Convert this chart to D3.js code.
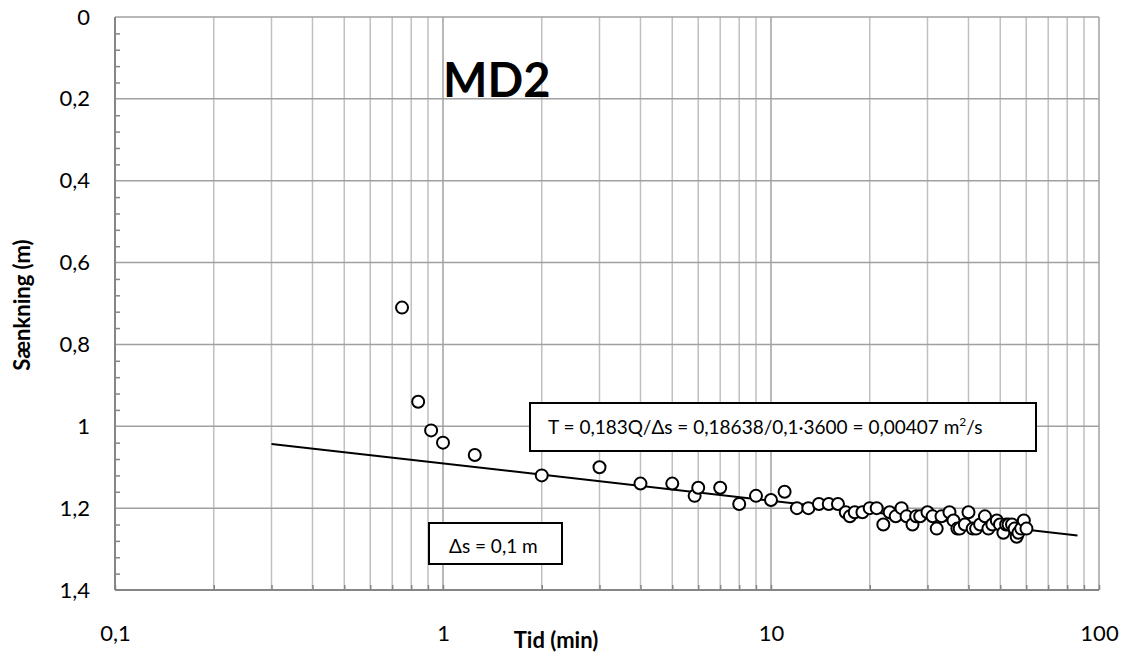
<!DOCTYPE html>
<html>
<head>
<meta charset="utf-8">
<script src="https://cdn.jsdelivr.net/npm/d3@7"></script>
<style>
  body { margin: 0; background: #fff; }
  svg { display: block; font-family: Lato, "Open Sans", sans-serif; }
</style>
</head>
<body>
<div id="chart"></div>
<script>
// pumpetest MD2: tid (min) og sænkning (m)
let tid = [0.75, 0.84, 0.92, 1, 1.25, 2, 3, 4, 5, 5.85, 6, 7, 8, 9, 10, 11, 12, 13, 14, 15, 16,
  16.9, 17.4, 18, 19, 20, 21, 22, 23, 24, 25, 25.9, 27, 27.7, 28.5, 30, 31.1, 32, 33.1, 35, 36,
  37, 37.6, 39, 40, 41.2, 42.2, 43.4, 44.9, 46, 47.3, 48.8, 49.9, 51.1, 52.1, 53, 54.3, 55.3,
  56.1, 56.8, 57.9, 59, 60.1];
let saenkning = [0.71, 0.94, 1.01, 1.04, 1.07, 1.12, 1.10, 1.14, 1.14, 1.17, 1.15, 1.15, 1.19,
  1.17, 1.18, 1.16, 1.20, 1.20, 1.19, 1.19, 1.19, 1.21, 1.22, 1.21, 1.21, 1.20, 1.20, 1.24, 1.21,
  1.22, 1.20, 1.22, 1.24, 1.22, 1.22, 1.21, 1.22, 1.25, 1.22, 1.21, 1.23, 1.25, 1.25, 1.24, 1.21,
  1.25, 1.25, 1.24, 1.22, 1.25, 1.24, 1.23, 1.24, 1.26, 1.24, 1.24, 1.24, 1.25, 1.27, 1.26, 1.25,
  1.23, 1.25];

// rette linje (semi-log)
let trendTid = [0.3, 86];
let trendS = [1.043, 1.267];

let xTicks = [0.1, 1, 10, 100];
let yTicks = [0, 0.2, 0.4, 0.6, 0.8, 1, 1.2, 1.4];

let title = 'MD2';
let xTitle = 'Tid (min)';
let yTitle = 'Sænkning (m)';
let formulaText = 'T = 0,183Q/Δs = 0,18638/0,1·3600 = 0,00407 m';
let deltaText = 'Δs = 0,1 m';

let width = 1128,
    height = 662,
    margins = { top: 17, right: 29, bottom: 72, left: 115 };

let locale = d3.formatLocale({ decimal: ',', thousands: '.', grouping: [3], currency: ['', ' kr'] });
let fmt = locale.format('~g');

let x = d3.scaleLog()
  .domain([0.1, 100])
  .range([margins.left, width - margins.right]);

let y = d3.scaleLinear()
  .domain([0, 1.4])
  .range([margins.top, height - margins.bottom]);

// all log gridlines: 0.1..0.9, 1..9, 10..90, 100
let xGrid = [];
[0.1, 1, 10].forEach(d => {
  for (let k = 1; k <= 9; k++) xGrid.push(+(d * k).toPrecision(3));
});
xGrid.push(100);

let yMinor = d3.range(0, 1.4001, 0.04).filter((d, i) => i % 5 !== 0);

let $svg = d3.select('#chart').append('svg')
  .attr('width', width)
  .attr('height', height);

// gridlines
$svg.append('g')
  .selectAll('line')
  .data(xGrid)
  .enter()
  .append('line')
  .attr('x1', d => x(d))
  .attr('x2', d => x(d))
  .attr('y1', y(0))
  .attr('y2', y(1.4))
  .style('stroke', d => xTicks.indexOf(d) > -1 ? '#a0a0a0' : '#c0c0c0')
  .style('stroke-width', 1.5);

$svg.append('g')
  .selectAll('line')
  .data(yTicks)
  .enter()
  .append('line')
  .attr('x1', x(0.1))
  .attr('x2', x(100))
  .attr('y1', d => y(d))
  .attr('y2', d => y(d))
  .style('stroke', '#a0a0a0')
  .style('stroke-width', 1.5);

// minor ticks on the axes
let $yMinor = $svg.append('g')
  .attr('transform', `translate(${margins.left},0)`)
  .call(d3.axisRight(y).tickValues(yMinor).tickSize(5).tickFormat(''));
$yMinor.select('.domain').remove();
$yMinor.selectAll('line').style('stroke', '#868686').style('stroke-width', 1.5);

let $xMinor = $svg.append('g')
  .attr('transform', `translate(0,${height - margins.bottom})`)
  .call(d3.axisTop(x).tickValues(xGrid).tickSize(5).tickFormat(''));
$xMinor.select('.domain').remove();
$xMinor.selectAll('line').style('stroke', '#868686').style('stroke-width', 1.5);

// axis lines
$svg.append('line')
  .attr('x1', x(0.1)).attr('x2', x(0.1))
  .attr('y1', y(0)).attr('y2', y(1.4))
  .style('stroke', '#868686').style('stroke-width', 2);
$svg.append('line')
  .attr('x1', x(0.1)).attr('x2', x(100))
  .attr('y1', y(1.4)).attr('y2', y(1.4))
  .style('stroke', '#868686').style('stroke-width', 2);

// tick labels
let $yAxis = $svg.append('g')
  .attr('transform', `translate(${margins.left},0)`)
  .call(d3.axisLeft(y).tickValues(yTicks).tickSize(0).tickPadding(25).tickFormat(fmt));
$yAxis.select('.domain').remove();
$yAxis.selectAll('text')
  .style('font-family', 'Lato, "Open Sans", sans-serif')
  .style('font-size', '22px')
  .style('fill', '#000');

let $xAxis = $svg.append('g')
  .attr('transform', `translate(0,${height - margins.bottom})`)
  .call(d3.axisBottom(x).tickValues(xTicks).tickSize(0).tickPadding(35).tickFormat(fmt));
$xAxis.select('.domain').remove();
$xAxis.selectAll('text')
  .style('font-family', 'Lato, "Open Sans", sans-serif')
  .style('font-size', '22px')
  .style('fill', '#000');

// axis titles
$svg.append('text')
  .attr('x', 556)
  .attr('y', 648)
  .attr('text-anchor', 'middle')
  .style('font-size', '22px')
  .style('font-weight', 'bold')
  .text(xTitle);

$svg.append('text')
  .attr('transform', 'translate(30,305) rotate(-90)')
  .attr('text-anchor', 'middle')
  .style('font-size', '22px')
  .style('font-weight', 'bold')
  .text(yTitle);

// chart title
$svg.append('text')
  .attr('x', 443)
  .attr('y', 97)
  .style('font-size', '47px')
  .style('font-weight', 'bold')
  .text(title);

// trend line
let line = d3.line()
  .x(d => x(d[0]))
  .y(d => y(d[1]));

$svg.append('path')
  .datum(d3.zip(trendTid, trendS))
  .attr('d', line)
  .style('fill', 'none')
  .style('stroke', '#000')
  .style('stroke-width', 2);

// measurements
$svg.append('g')
  .selectAll('circle')
  .data(d3.zip(tid, saenkning))
  .enter()
  .append('circle')
  .attr('cx', d => x(d[0]))
  .attr('cy', d => y(d[1]))
  .attr('r', 6)
  .style('fill', '#fff')
  .style('stroke', '#000')
  .style('stroke-width', 2);

// text boxes
function textBox(bx, by, bw, bh, tx, ty) {
  let $g = $svg.append('g');
  $g.append('rect')
    .attr('x', bx).attr('y', by)
    .attr('width', bw).attr('height', bh)
    .style('fill', '#fff')
    .style('stroke', '#000')
    .style('stroke-width', 2);
  return $g.append('text')
    .attr('x', tx)
    .attr('y', ty)
    .style('font-size', '19px');
}

let $formula = textBox(530, 403, 506, 48, 548, 434);
$formula.append('tspan').text(formulaText);
$formula.append('tspan')
  .attr('dy', -8)
  .style('font-size', '12px')
  .text('2');
$formula.append('tspan')
  .attr('dy', 8)
  .text('/s');

textBox(429, 523, 133, 41, 449, 553).text(deltaText);
</script>
</body>
</html>
